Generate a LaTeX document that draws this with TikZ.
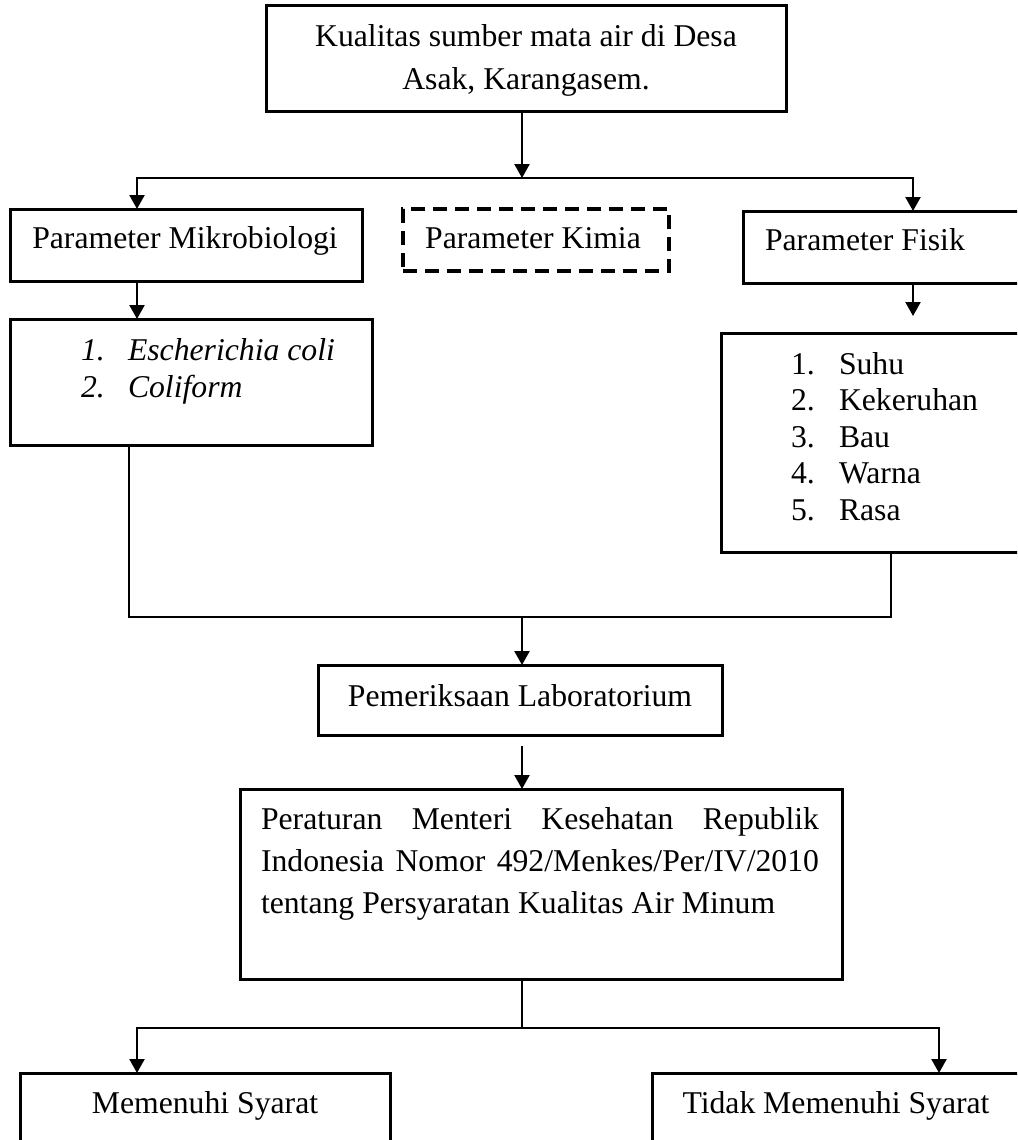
\documentclass[tikz,border=0pt]{standalone}
\usepackage{fontspec}
\setmainfont{Liberation Serif}
\usetikzlibrary{arrows.meta}
\begin{document}
\begin{tikzpicture}[x=1pt,y=-1pt,
  box/.style={draw, line width=3pt, rectangle, inner sep=0pt, outer sep=0pt, anchor=north west},
  dbox/.style={box, line width=3.6pt, dash pattern=on 14pt off 8pt},
  txt/.style={inner sep=0pt, outer sep=0pt, font=\fontsize{31.7}{38}\selectfont},
  conn/.style={line width=2.3pt},
  thinconn/.style={line width=1.8pt},
  arr/.style={conn, -{Triangle[length=14pt,width=15pt]}},
]
\useasboundingbox (0,0) rectangle (1017,1140);
\clip (0,0) rectangle (1017,1140);

% boxes
\node[box, minimum width=520pt, minimum height=105pt] (top) at (266,6) {};
\node[box, minimum width=352pt, minimum height=72pt] (mikro) at (10,209) {};
\node[dbox, minimum width=266pt, minimum height=62pt] (kimia) at (403,209) {};
\node[box, minimum width=282pt, minimum height=72pt] (fisik) at (743,211) {};
\node[box, minimum width=362pt, minimum height=126pt] (ecoli) at (10,319) {};
\node[box, minimum width=304pt, minimum height=219pt] (fisiklist) at (721,333) {};
\node[box, minimum width=404pt, minimum height=70pt] (lab) at (318,665) {};
\node[box, minimum width=602pt, minimum height=190pt] (per) at (240,789) {};
\node[box, minimum width=370pt, minimum height=90pt] (mem) at (20,1073) {};
\node[box, minimum width=373pt, minimum height=90pt] (tidak) at (652,1073) {};

% texts
\node[txt, anchor=base] (ttop1) at (526,47) {Kualitas sumber mata air di Desa};
\node[txt, anchor=base] (ttop2) at (526,89) {Asak, Karangasem.};
\node[txt, anchor=base] (tmikro) at (185,248) {Parameter Mikrobiologi};
\node[txt, anchor=base] (tkimia) at (533,248) {Parameter Kimia};
\node[txt, anchor=base west] (tfisik) at (765,250) {Parameter Fisik};

\node[txt, anchor=base west] (en1) at (81,360) {\itshape 1.};
\node[txt, anchor=base west] (et1) at (128,360) {\itshape Escherichia coli};
\node[txt, anchor=base west] (en2) at (81,397) {\itshape 2.};
\node[txt, anchor=base west] (et2) at (128,397) {\itshape Coliform};

\node[txt, anchor=base west] (fn1) at (791,374) {1.};
\node[txt, anchor=base west] (ft1) at (839,374) {Suhu};
\node[txt, anchor=base west] (fn2) at (791,410) {2.};
\node[txt, anchor=base west] (ft2) at (839,410) {Kekeruhan};
\node[txt, anchor=base west] (fn3) at (791,447) {3.};
\node[txt, anchor=base west] (ft3) at (839,447) {Bau};
\node[txt, anchor=base west] (fn4) at (791,483) {4.};
\node[txt, anchor=base west] (ft4) at (839,483) {Warna};
\node[txt, anchor=base west] (fn5) at (791,520) {5.};
\node[txt, anchor=base west] (ft5) at (839,520) {Rasa};

\node[txt, anchor=base] (tlab) at (520,706) {Pemeriksaan Laboratorium};

\node[txt, anchor=base west] (tp1) at (261,829) {\makebox[558pt][s]{Peraturan Menteri Kesehatan Republik}};
\node[txt, anchor=base west] (tp2) at (261,871) {\makebox[558pt][s]{Indonesia Nomor 492/Menkes/Per/IV/2010}};
\node[txt, anchor=base west] (tp3) at (261,913) {tentang Persyaratan Kualitas Air Minum};

\node[txt, anchor=base] (tmem) at (205,1113) {Memenuhi Syarat};
\node[txt, anchor=base] (ttidak) at (836,1113) {Tidak Memenuhi Syarat};

% junction coordinates
\coordinate (j1) at (522,178);
\coordinate (jl) at (137,178);
\coordinate (jr) at (913,178);
\coordinate (fend) at (913,316);
\coordinate (m1) at (129,617);
\coordinate (m2) at (891,617);
\coordinate (m3) at (522,617);
\coordinate (lstart) at (522,746);
\coordinate (b1) at (522,1028);
\coordinate (bl) at (137,1028);
\coordinate (br) at (939,1028);

% connectors
\draw[arr] (top.south -| j1) -- (j1);
\draw[arr] (j1) -| (mikro.north -| jl);
\draw[arr] (j1) -| (fisik.north -| jr);
\draw[arr] (mikro.south -| jl) -- (ecoli.north -| jl);
\draw[arr] (fisik.south -| jr) -- (fend);
\draw[thinconn] (ecoli.south -| m1) -- (m1) -- (m2) -- (fisiklist.south -| m2);
\draw[arr] (m3) -- (lab.north -| m3);
\draw[arr] (lstart) -- (per.north -| lstart);
\draw[thinconn] (per.south -| b1) -- (b1);
\draw[arr] (b1) -| (mem.north -| bl);
\draw[arr] (b1) -| (tidak.north -| br);
\end{tikzpicture}
\end{document}
